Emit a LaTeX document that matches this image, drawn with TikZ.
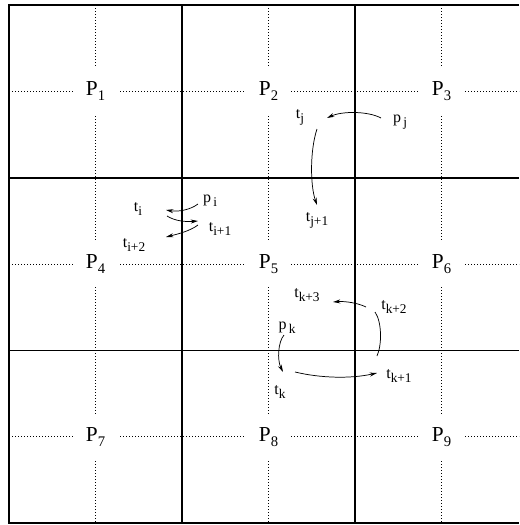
\documentclass[tikz,border=0pt]{standalone}
\usepackage{fontspec}
\setmainfont{Liberation Serif}
\usetikzlibrary{arrows.meta,calc}
\newcommand{\Plab}[1]{\fontsize{16}{16}\selectfont P\raisebox{-3.5pt}{\fontsize{11}{11}\selectfont #1}}
\newcommand{\slab}[2]{\fontsize{12}{12}\selectfont #1\raisebox{-3pt}{\fontsize{10}{10}\selectfont #2}}
\begin{document}
\begin{tikzpicture}[x=0.75pt,y=-0.75pt,
  gridline/.style={line width=1.3pt},
  dotline/.style={line width=0.6pt,dash pattern=on 0.7pt off 1.55pt},
  pbox/.style={fill=white,inner sep=0pt,minimum width=33.75pt,minimum height=34.5pt},
  small/.style={inner sep=0pt,anchor=center},
  conn/.style={line width=0.55pt,-{Stealth[length=5.5pt,width=3pt]}},
  plain/.style={line width=0.55pt}]
\useasboundingbox (0,0) rectangle (519,525);
% dotted cross lines
\foreach \cx in {95.5,268.5,441.5} \draw[dotline] (\cx,5) -- (\cx,523);
\foreach \cy in {91.3,264.1,436.8} \draw[dotline] (9,\cy) -- (519,\cy);
% thick grid
\draw[gridline] (519,5) -- (9,5) -- (9,523) -- (519,523);
\draw[gridline] (9,177.7) -- (519,177.7);
\draw[gridline] (9,350.5) -- (519,350.5);
\draw[gridline] (182,5) -- (182,523);
\draw[gridline] (355,5) -- (355,523);
% cell labels
\node[pbox] (P1) at (95.5,91.3) {\Plab{1}};
\node[pbox] (P2) at (268.5,91.3) {\Plab{2}};
\node[pbox] (P3) at (441.5,91.3) {\Plab{3}};
\node[pbox] (P4) at (95.5,264.1) {\Plab{4}};
\node[pbox] (P5) at (268.5,264.1) {\Plab{5}};
\node[pbox] (P6) at (441.5,264.1) {\Plab{6}};
\node[pbox] (P7) at (95.5,436.8) {\Plab{7}};
\node[pbox] (P8) at (268.5,436.8) {\Plab{8}};
\node[pbox] (P9) at (441.5,436.8) {\Plab{9}};
% small labels
\node[small] (tj) at (300,117) {\slab{t}{j}};
\node[small] (pj) at (400,122) {\slab{p}{\,j}};
\node[small] (tj1) at (317,220) {\slab{t}{j+1}};
\node[small] (ti) at (138,209) {\slab{t}{i}};
\node[small] (pi) at (210,201) {\slab{p}{\,i}};
\node[small] (ti1) at (220,229) {\slab{t}{i+1}};
\node[small] (ti2) at (134,245) {\slab{t}{i+2}};
\node[small] (tk3) at (307,295) {\slab{t}{k+3}};
\node[small] (tk2) at (394,307) {\slab{t}{k+2}};
\node[small] (pk) at (287,328) {\slab{p}{\,k}};
\node[small] (tk) at (280,392) {\slab{t}{k}};
\node[small] (tk1) at (399,376) {\slab{t}{k+1}};
% connectors
\draw[conn] ($(pj)+(-19,-4)$) .. controls (368,111) and (342,111) .. ($(tj)+(27,1)$);
\draw[conn] ($(tj)+(17,12)$) .. controls (310,150) and (310,185) .. ($(tj1)+(0,-15)$);
\draw[conn] ($(pi)+(-12,3)$) .. controls (190,210) and (178,212) .. ($(ti)+(28,1)$);
\draw[conn] ($(ti)+(29,7)$) .. controls (175,221) and (185,222) .. ($(ti1)+(-22,-8)$);
\draw[conn] ($(ti1)+(-22,-4)$) .. controls (190,231) and (178,234) .. ($(ti2)+(32,-8)$);
\draw[conn] ($(tk2)+(-28,0)$) .. controls (358,303) and (345,301) .. ($(tk3)+(26,7)$);
\draw[plain] ($(tk1)+(-22,-20)$) .. controls (382,345) and (382,322) .. ($(tk2)+(-19,5)$);
\draw[conn] ($(pk)+(-3,7)$) .. controls (278,342) and (277,360) .. ($(tk)+(3,-20)$);
\draw[conn] ($(tk)+(15,-20)$) .. controls (320,378) and (350,379) .. ($(tk1)+(-22,-3)$);
\end{tikzpicture}
\end{document}
